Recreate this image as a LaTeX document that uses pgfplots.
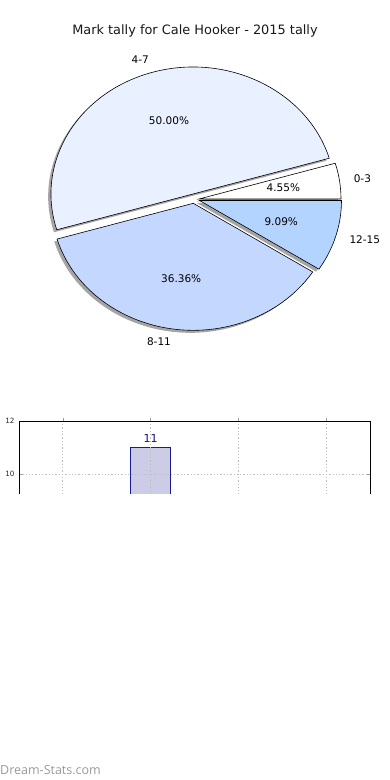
\documentclass[border=0pt]{standalone}
\usepackage{pgfplots}
\pgfplotsset{compat=1.18}
\usepackage{pgfplotstable}
\usepackage{fontspec}
\setmainfont{DejaVu Sans}
\newfontfamily\wmfont{Open Sans}
\definecolor{pieA}{HTML}{FFFFFF}
\definecolor{pieB}{HTML}{E9F0FF}
\definecolor{pieC}{HTML}{C4D8FF}
\definecolor{pieD}{HTML}{B3D4FF}
\definecolor{barfill}{HTML}{CCCCE6}
\definecolor{barblue}{HTML}{1A1A95}
\definecolor{labblue}{HTML}{101080}
\definecolor{wmgray}{HTML}{9A9A9A}

% pie data: label, count, start (cumulative count), explode shift dx dy (pt), colour, percent
\pgfplotstableread{
label count start dx dy col pct
0-3 1 0 0 0 pieA 4.55
4-7 11 1 -6 5 pieB 50.00
8-11 8 12 -5.7 -4.3 pieC 36.36
12-15 2 20 0.5 -1.5 pieD 9.09
}\pietable
\def\pietotal{22}
\def\rx{142}
\def\ry{127}

\begin{document}
\begin{tikzpicture}
\useasboundingbox (0pt,0pt) rectangle (390pt,780pt);
% title
\node[anchor=base, inner sep=0pt, font=\fontsize{12.9}{15}\selectfont, text=black!90] at (195pt,745.7pt) {Mark tally for Cale Hooker - 2015 tally};

% pie
\begin{axis}[at={(39pt,431pt)}, anchor=south west, x=1pt, y=1pt,
  xmin=-160, xmax=160, ymin=-150, ymax=150, hide axis, clip=false]
\pgfplotsextra{
  % shadows
  \foreach \i in {0,1,2,3}{
    \pgfplotstablegetelem{\i}{count}\of\pietable \let\cnt\pgfplotsretval
    \pgfplotstablegetelem{\i}{start}\of\pietable \let\st\pgfplotsretval
    \pgfplotstablegetelem{\i}{dx}\of\pietable \let\ddx\pgfplotsretval
    \pgfplotstablegetelem{\i}{dy}\of\pietable \let\ddy\pgfplotsretval
    \pgfmathsetmacro\a{\st/\pietotal*360}
    \pgfmathsetmacro\b{(\st+\cnt)/\pietotal*360}
    \pgfmathsetmacro\sx{\ddx-2.8}
    \pgfmathsetmacro\sy{\ddy-2.5}
    \fill[black!70, opacity=0.5] (axis cs:\sx,\sy) -- ++(\a:\rx pt and \ry pt)
      arc[start angle=\a, end angle=\b, x radius=\rx pt, y radius=\ry pt] -- cycle;
  }
  % wedges
  \foreach \i in {0,1,2,3}{
    \pgfplotstablegetelem{\i}{count}\of\pietable \let\cnt\pgfplotsretval
    \pgfplotstablegetelem{\i}{start}\of\pietable \let\st\pgfplotsretval
    \pgfplotstablegetelem{\i}{dx}\of\pietable \let\ddx\pgfplotsretval
    \pgfplotstablegetelem{\i}{dy}\of\pietable \let\ddy\pgfplotsretval
    \pgfplotstablegetelem{\i}{col}\of\pietable \let\wcol\pgfplotsretval
    \pgfmathsetmacro\a{\st/\pietotal*360}
    \pgfmathsetmacro\b{(\st+\cnt)/\pietotal*360}
    \filldraw[fill=\wcol, draw=black, line width=0.6pt, line join=miter] (axis cs:\ddx,\ddy) -- ++(\a:\rx pt and \ry pt)
      arc[start angle=\a, end angle=\b, x radius=\rx pt, y radius=\ry pt] -- cycle;
  }
  % labels
  \foreach \i in {0,1,2,3}{
    \pgfplotstablegetelem{\i}{label}\of\pietable \let\lab\pgfplotsretval
    \pgfplotstablegetelem{\i}{count}\of\pietable \let\cnt\pgfplotsretval
    \pgfplotstablegetelem{\i}{start}\of\pietable \let\st\pgfplotsretval
    \pgfplotstablegetelem{\i}{dx}\of\pietable \let\ddx\pgfplotsretval
    \pgfplotstablegetelem{\i}{dy}\of\pietable \let\ddy\pgfplotsretval
    \pgfplotstablegetelem{\i}{pct}\of\pietable \let\pc\pgfplotsretval
    \pgfmathsetmacro\m{(\st+\cnt/2)/\pietotal*360}
    \pgfmathsetmacro\px{\ddx+0.6*\rx*cos(\m)}
    \pgfmathsetmacro\py{\ddy+0.6*\ry*sin(\m)}
    \pgfmathsetmacro\lx{\ddx+1.1*\rx*cos(\m)}
    \pgfmathsetmacro\ly{\ddy+1.1*\ry*sin(\m)}
    \pgfmathtruncatemacro\isright{cos(\m)>0}
    \ifnum\isright=1 \def\anc{west}\else\def\anc{east}\fi
    \node[inner sep=0pt, font=\fontsize{10.5}{12}\selectfont] at (axis cs:\px,\py) {\pc\%};
    \node[inner sep=0pt, anchor=\anc, font=\fontsize{10.5}{12}\selectfont] at (axis cs:\lx,\ly) {\lab};
  }
}
\end{axis}

% bar chart (only its upper part is shown)
\begin{scope}
\clip (0pt,286.5pt) rectangle (390pt,400pt);
\begin{axis}[at={(19pt,41pt)}, anchor=south west, scale only axis,
  width=351pt, height=318pt,
  xmin=-0.5, xmax=3.5, ymin=0, ymax=12,
  xtick={0,1,2,3}, xticklabels={,,,},
  ytick={0,2,4,6,8,10,12},
  /pgf/number format/assume math mode=true,
  yticklabel style={font=\fontsize{7.2}{8}\selectfont, text=black!85, xshift=-1pt},
  axis on top,
  grid=major, grid style={dash pattern=on 1.3pt off 2pt, black!25, line width=0.9pt},
  tick align=inside, major tick length=3pt,
  tick style={black!40, line width=0.6pt},
  axis line style={black, line width=0.8pt},
  ybar, bar width=40pt]
\addplot[fill=barfill, draw=barblue, line width=0.7pt,
  nodes near coords,
  nodes near coords style={font=\fontsize{11}{13}\selectfont, text=labblue, inner sep=0pt, yshift=4.5pt}]
  coordinates {(1,11)};
\end{axis}
\end{scope}

% watermark
\node[anchor=base west, inner sep=0pt, font=\wmfont\fontsize{12.5}{14}\selectfont, text=wmgray] at (0pt,5.7pt) {Dream-Stats.com};
\end{tikzpicture}
\end{document}
